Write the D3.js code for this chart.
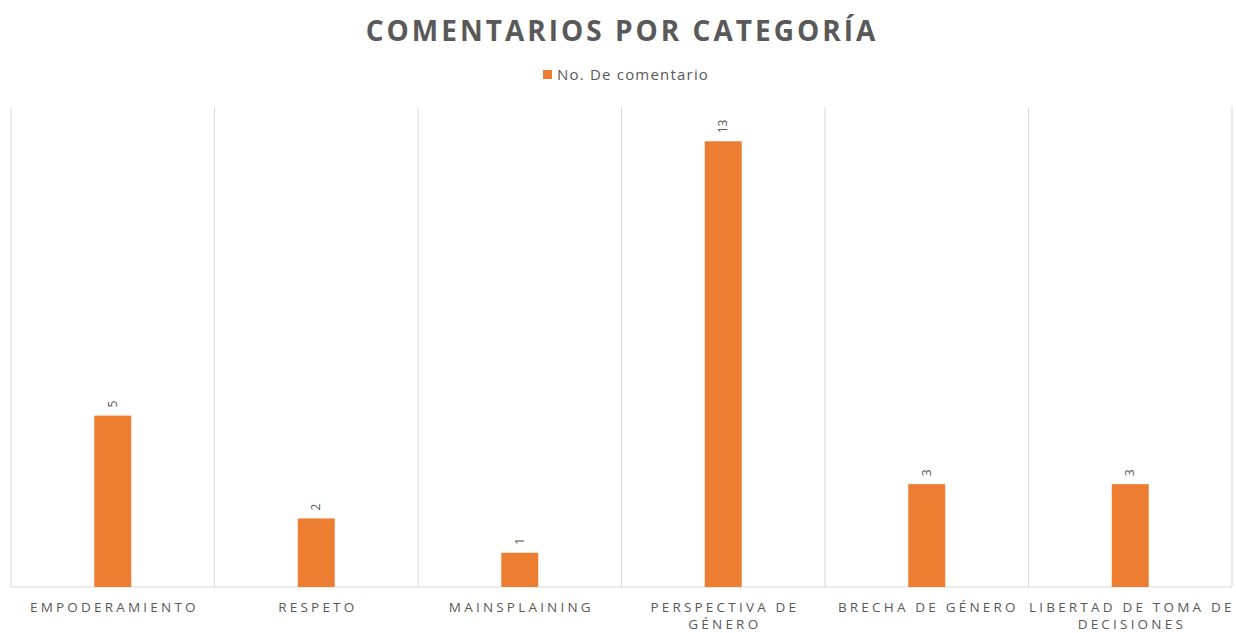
<!DOCTYPE html>
<html>
<head>
<meta charset="utf-8">
<script src="https://cdn.jsdelivr.net/npm/d3@7"></script>
<style>
  body { margin: 0; background: #fff; }
  svg { display: block; font-family: "Open Sans", "Noto Sans", sans-serif; }
</style>
</head>
<body>
<svg id="chart" width="1236" height="633"></svg>
<script>
const categories = [
	["EMPODERAMIENTO"],
	["RESPETO"],
	["MAINSPLAINING"],
	["PERSPECTIVA DE", "GÉNERO"],
	["BRECHA DE GÉNERO"],
	["LIBERTAD DE TOMA DE", "DECISIONES"]
];
const values = [5, 2, 1, 13, 3, 3];
const seriesName = "No. De comentario";
const title = "COMENTARIOS POR CATEGORÍA";

const width = 1236;
const height = 633;
const margin = { top: 107, right: 4, bottom: 46, left: 11 };

const svg = d3.select("#chart");

const x = d3
	.scaleBand()
	.domain(d3.range(categories.length))
	.range([margin.left, width - margin.right])
	.paddingInner(0)
	.paddingOuter(0);

const y = d3
	.scaleLinear()
	.domain([0, 14])
	.range([height - margin.bottom, margin.top]);

// Vertical category separators
const edges = d3.range(categories.length + 1).map((i) => margin.left + i * x.step());
svg.append("g")
	.selectAll("line")
	.data(edges)
	.join("line")
	.attr("x1", (d) => d)
	.attr("x2", (d) => d)
	.attr("y1", y(14))
	.attr("y2", y(0))
	.attr("stroke", "#d9d9d9")
	.attr("stroke-width", 1);

// Baseline
svg.append("line")
	.attr("x1", margin.left)
	.attr("x2", width - margin.right)
	.attr("y1", y(0))
	.attr("y2", y(0))
	.attr("stroke", "#d9d9d9")
	.attr("stroke-width", 1);

const barWidth = 37;

svg.append("g")
	.selectAll("rect")
	.data(values)
	.join("rect")
	.attr("x", (d, i) => x(i) + x.bandwidth() / 2 - barWidth / 2)
	.attr("y", (d) => y(d))
	.attr("width", barWidth)
	.attr("height", (d) => y(0) - y(d))
	.attr("fill", "#ed7d31");

// Value labels, rotated
svg.append("g")
	.selectAll("text")
	.data(values)
	.join("text")
	.attr("transform", (d, i) => `translate(${x(i) + x.bandwidth() / 2 + 4},${y(d) - 8}) rotate(-90)`)
	.attr("text-anchor", "start")
	.attr("font-size", 12)
	.attr("fill", "#595959")
	.text((d) => d);

// Category labels
const labels = svg.append("g")
	.selectAll("text")
	.data(categories)
	.join("text")
	.attr("text-anchor", "middle")
	.attr("font-size", 13.5)
	.attr("letter-spacing", 3.2)
	.attr("fill", "#595959");

labels.selectAll("tspan")
	.data((d, i) => d.map((line) => ({ line, i })))
	.join("tspan")
	.attr("x", (d) => x(d.i) + x.bandwidth() / 2 + 1.6)
	.attr("y", (d, j) => y(0) + 25 + j * 17)
	.text((d) => d.line);

// Title
svg.append("text")
	.attr("x", 622)
	.attr("y", 41)
	.attr("text-anchor", "middle")
	.attr("font-size", 28)
	.attr("font-weight", "bold")
	.attr("letter-spacing", 3)
	.attr("fill", "#595959")
	.text(title);

// Legend
const legend = svg.append("g").attr("transform", "translate(543,70)");
legend.append("rect").attr("width", 9).attr("height", 9).attr("fill", "#ed7d31");
legend.append("text")
	.attr("x", 14)
	.attr("y", 9.5)
	.attr("font-size", 15)
	.attr("letter-spacing", 1.2)
	.attr("fill", "#595959")
	.text(seriesName);
</script>
</body>
</html>
